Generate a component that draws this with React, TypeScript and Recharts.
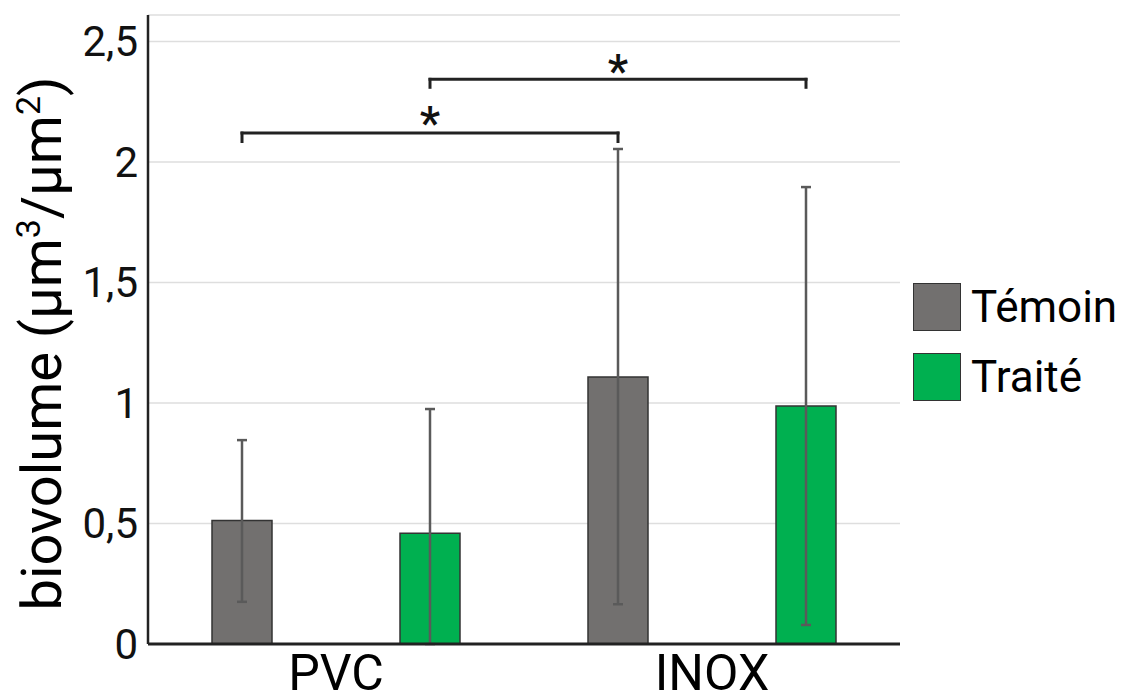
import {
  BarChart,
  Bar,
  XAxis,
  YAxis,
  CartesianGrid,
  ErrorBar,
  Legend,
  ReferenceLine,
  ReferenceDot,
} from "recharts";

const categories = ["PVC", "INOX"];
const seriesNames = ["Témoin", "Traité"];
const temoinValues = [0.512, 1.108];
const traiteValues = [0.46, 0.988];
// error bar ends (absolute values)
const temoinLow = [0.175, 0.165];
const temoinHigh = [0.846, 2.054];
const traiteLow = [0, 0.079];
const traiteHigh = [0.975, 1.896];
const yTicks = [0, 0.5, 1, 1.5, 2, 2.5];

// significance brackets on a hidden 0..1 axis (bar centres at .125 / .375 / .625 / .875)
const brackets = [
  { from: 0.125, to: 0.625, top: 2.12, foot: 2.085, star: 2.2 },
  { from: 0.375, to: 0.875, top: 2.343, foot: 2.31, star: 2.415 },
];

const data = categories.map((name, i) => ({
  name,
  temoin: temoinValues[i],
  traite: traiteValues[i],
  temoinErr: [temoinValues[i] - temoinLow[i], temoinHigh[i] - temoinValues[i]],
  traiteErr: [traiteValues[i] - traiteLow[i], traiteHigh[i] - traiteValues[i]],
}));

function YLabel({ viewBox }: any) {
  const cx = 61;
  const cy = viewBox.y + viewBox.height / 2 + 14;
  return (
    <text
      x={cx}
      y={cy}
      transform={`rotate(-90 ${cx} ${cy})`}
      textAnchor="middle"
      fontSize={56}
      fill="#000"
    >
      biovolume (µm
      <tspan dy={-21} fontSize={34}>3</tspan>
      <tspan dy={21}>/µm</tspan>
      <tspan dy={-21} fontSize={34}>2</tspan>
      <tspan dy={21}>)</tspan>
    </text>
  );
}

function LegendBox({ payload }: any) {
  const items = [...(payload || [])].sort(
    (a: any, b: any) => seriesNames.indexOf(a.value) - seriesNames.indexOf(b.value)
  );
  return (
    <div style={{ display: "flex", flexDirection: "column", gap: 22 }}>
      {items.map((p: any) => (
        <div key={p.value} style={{ display: "flex", alignItems: "center", height: 48 }}>
          <div
            style={{
              width: 48,
              height: 48,
              background: p.color,
              border: "1.5px solid #333",
              boxSizing: "border-box",
            }}
          />
          <span style={{ fontSize: 44, marginLeft: 10, color: "#000", lineHeight: "48px" }}>
            {p.value}
          </span>
        </div>
      ))}
    </div>
  );
}

function Star({ cx, cy }: any) {
  return (
    <text x={cx} y={cy + 25} textAnchor="middle" fontSize={46} fontWeight={500} fill="#111">
      *
    </text>
  );
}

export default function App() {
  const bracketLines = brackets.flatMap((b, i) => [
    <ReferenceLine
      key={`h${i}`}
      xAxisId="num"
      ifOverflow="visible"
      segment={[{ x: b.from, y: b.top }, { x: b.to, y: b.top }]}
      stroke="#222"
      strokeWidth={3}
      strokeLinecap="square"
    />,
    <ReferenceLine
      key={`l${i}`}
      xAxisId="num"
      ifOverflow="visible"
      segment={[{ x: b.from, y: b.top }, { x: b.from, y: b.foot }]}
      stroke="#222"
      strokeWidth={3}
      strokeLinecap="square"
    />,
    <ReferenceLine
      key={`r${i}`}
      xAxisId="num"
      ifOverflow="visible"
      segment={[{ x: b.to, y: b.top }, { x: b.to, y: b.foot }]}
      stroke="#222"
      strokeWidth={3}
      strokeLinecap="square"
    />,
    <ReferenceDot
      key={`s${i}`}
      xAxisId="num"
      ifOverflow="visible"
      x={(b.from + b.to) / 2}
      y={b.star}
      r={0}
      shape={Star}
    />,
  ]);

  return (
    <div style={{ position: "absolute", left: 0, top: 0, fontFamily: "Roboto" }}>
      <BarChart
        width={1128}
        height={700}
        data={data}
        margin={{ top: 15, right: 228, bottom: 0, left: 0 }}
        barSize={60}
        barGap={128}
      >
        <CartesianGrid vertical={false} stroke="#dedede" strokeWidth={1.5} />
        <XAxis
          dataKey="name"
          height={56}
          tickLine={false}
          tickSize={0}
          tickMargin={10}
          axisLine={{ stroke: "#222", strokeWidth: 3 }}
          tick={{ fontSize: 50, fill: "#000" }}
        />
        <XAxis
          xAxisId="num"
          type="number"
          scale="linear"
          domain={[0, 1]}
          allowDataOverflow
          hide
        />
        <YAxis
          width={148}
          domain={[0, 2.61]}
          ticks={yTicks}
          tickLine={false}
          tickSize={0}
          tickMargin={10}
          axisLine={{ stroke: "#222", strokeWidth: 2.5 }}
          tick={{ fontSize: 42, fill: "#111" }}
          tickFormatter={(v: number) => String(v).replace(".", ",")}
          label={{ content: YLabel }}
        />
        <Legend
          layout="vertical"
          align="center"
          verticalAlign="middle"
          wrapperStyle={{ left: 913, top: 283, width: 215 }}
          content={LegendBox}
        />
        <Bar
          dataKey="temoin"
          name="Témoin"
          fill="#72706f"
          stroke="#333"
          strokeWidth={1.5}
          isAnimationActive={false}
        >
          <ErrorBar dataKey="temoinErr" width={5} stroke="#5a5a5a" strokeWidth={2.5} direction="y" />
        </Bar>
        <Bar
          dataKey="traite"
          name="Traité"
          fill="#00b050"
          stroke="#333"
          strokeWidth={1.5}
          isAnimationActive={false}
        >
          <ErrorBar dataKey="traiteErr" width={5} stroke="#5a5a5a" strokeWidth={2.5} direction="y" />
        </Bar>
        {bracketLines}
      </BarChart>
    </div>
  );
}
